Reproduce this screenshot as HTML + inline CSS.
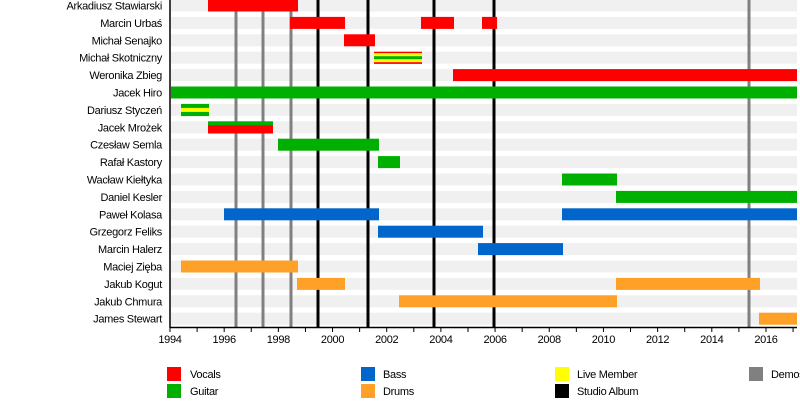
<!DOCTYPE html>
<html><head><meta charset="utf-8"><style>
html,body{margin:0;padding:0;background:#fff}
svg{display:block}
text{font-family:"Liberation Sans",sans-serif;font-size:11px;fill:#000;letter-spacing:-0.3px}
</style></head><body>
<svg width="800" height="404" viewBox="0 0 800 404" xmlns="http://www.w3.org/2000/svg">
<g fill="#f0f0f0" id="bands"></g>
<g id="lines"></g>
<g id="bars"></g>
<g id="labels" text-anchor="end"></g>
<line x1="170" y1="0" x2="170" y2="328" stroke="#000" stroke-width="1.5"/>
<line x1="170" y1="327.5" x2="797" y2="327.5" stroke="#000" stroke-width="1.5"/>
<g id="ticks" stroke="#000"></g>
<g id="tl" text-anchor="middle"></g>
<g>
<rect x="167" y="367" width="14" height="14" fill="#ff0000"/><text x="190" y="378">Vocals</text>
<rect x="167" y="384" width="14" height="14" fill="#00b000"/><text x="190" y="395">Guitar</text>
<rect x="361" y="367" width="14" height="14" fill="#0066cc"/><text x="383" y="378">Bass</text>
<rect x="361" y="384" width="14" height="14" fill="#ffa028"/><text x="383" y="395">Drums</text>
<rect x="555" y="367" width="14" height="14" fill="#ffff00"/><text x="577" y="378">Live Member</text>
<rect x="555" y="384" width="14" height="14" fill="#000"/><text x="577" y="395">Studio Album</text>
<rect x="749" y="367" width="14" height="14" fill="#808080"/><text x="771" y="378">Demos</text>
</g>
<script>
var NS="http://www.w3.org/2000/svg";
function el(p,t,a,txt){var e=document.createElementNS(NS,t);for(var k in a)e.setAttribute(k,a[k]);if(txt)e.textContent=txt;document.getElementById(p).appendChild(e);return e;}
var names=["Arkadiusz Stawiarski","Marcin Urbaś","Michał Senajko","Michał Skotniczny","Weronika Zbieg","Jacek Hiro","Dariusz Styczeń","Jacek Mrożek","Czesław Semla","Rafał Kastory","Wacław Kiełtyka","Daniel Kesler","Paweł Kolasa","Grzegorz Feliks","Marcin Halerz","Maciej Zięba","Jakub Kogut","Jakub Chmura","James Stewart"];
function cy(i){return 5.5+i*17.4;}
names.forEach(function(n,i){el("bands","rect",{x:171,y:cy(i)-6,width:626,height:12});el("labels","text",{x:162,y:cy(i)+4},n);});
[[236,"#808080"],[263,"#808080"],[291,"#808080"],[749,"#808080"],[318,"#000"],[368,"#000"],[434,"#000"],[494,"#000"]].forEach(function(l){el("lines","line",{x1:l[0],y1:0,x2:l[0],y2:327,stroke:l[1],"stroke-width":3});});
var R="#ff0000",G="#00b000",B="#0066cc",O="#ffa028",Y="#ffff00";
function bar(i,x1,x2,c){el("bars","rect",{x:x1,y:cy(i)-6,width:x2-x1,height:12,fill:c});}
function stripes(i,x1,x2,arr){var y=cy(i)-6,h=12/arr.length;arr.forEach(function(c,k){el("bars","rect",{x:x1,y:y+k*h,width:x2-x1,height:h+0.2,fill:c});});}
bar(0,208,298,R);
bar(1,290,345,R);bar(1,421,454,R);bar(1,482,497,R);
bar(2,344,375,R);
stripes(3,374,422,[R,Y,Y,G,G,Y,Y,R]);
bar(4,453,797,R);
bar(5,171,797,G);
stripes(6,181,209,[G,Y,G]);
stripes(7,208,273,[G,R,R]);
bar(8,278,379,G);
bar(9,378,400,G);
bar(10,562,617,G);
bar(11,616,797,G);
bar(12,224,379,B);bar(12,562,797,B);
bar(13,378,483,B);
bar(14,478,563,B);
bar(15,181,298,O);
bar(16,297,345,O);bar(16,616,760,O);
bar(17,399,617,O);
bar(18,759,797,O);
for(var yr=1994;yr<=2017;yr++){var x=170+(yr-1994)*27.09;el("ticks","line",{x1:x,y1:327,x2:x,y2:332,"stroke-width":1});if(yr%2==0&&yr<2017)el("tl","text",{x:x,y:343},String(yr));}
</script>
</svg>
</body></html>
